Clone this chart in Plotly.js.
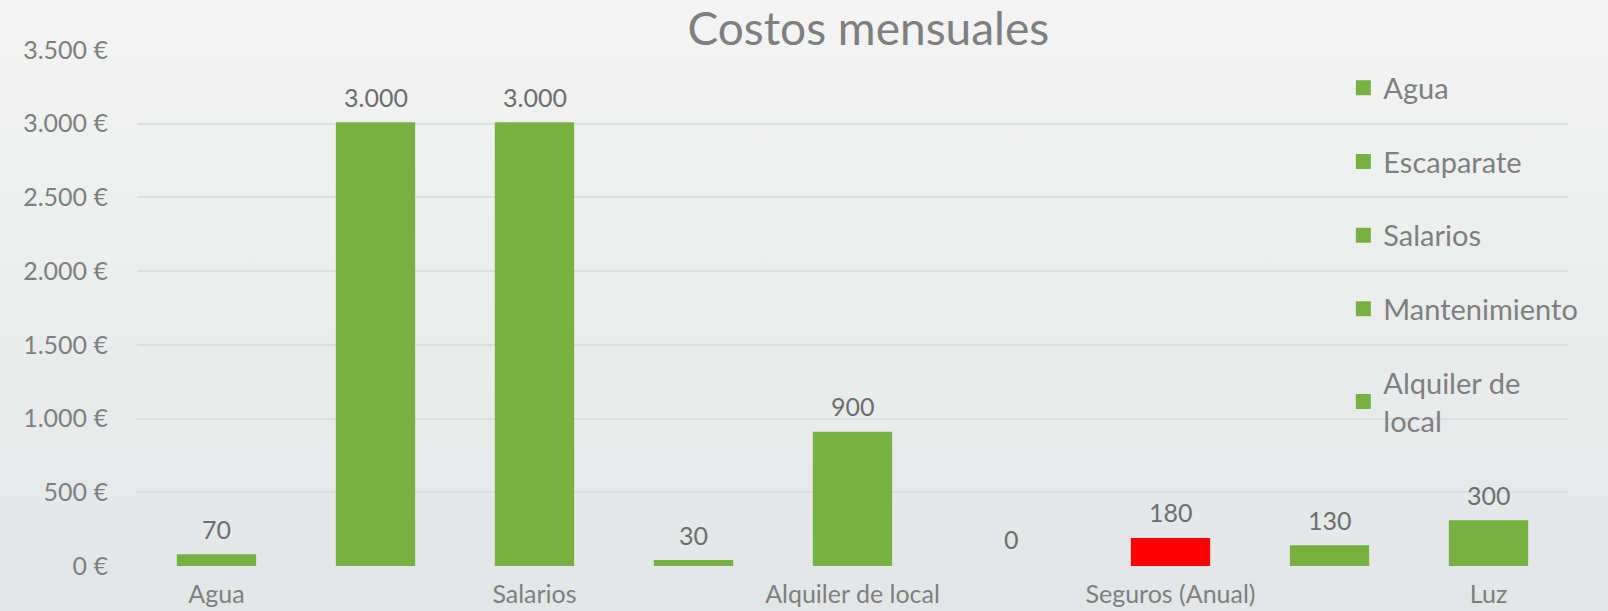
<!DOCTYPE html>
<html><head><meta charset="utf-8">
<script src="https://cdn.plot.ly/plotly-3.0.1.min.js"></script>
<style>
html,body{margin:0;padding:0;}
body{background:linear-gradient(to bottom,#f3f4f3 0%,#e3e6e7 100%);width:1608px;height:611px;}
#chart{width:1608px;height:611px;}
</style></head>
<body><div id="chart"></div>
<script>
const categories = ["Agua","Escaparate","Salarios","Mantenimiento","Alquiler de local","Publicidad","Seguros (Anual)","Internet","Luz"];
const values = [70,3000,3000,30,900,0,180,130,300];
const barColors = ["#78b042","#78b042","#78b042","#78b042","#78b042","#78b042","#ff0000","#78b042","#78b042"];
const legendCount = 5;
const tickLabels = ["Agua","Salarios","Alquiler de local","Seguros (Anual)","Luz"];
const yTicks = [0,500,1000,1500,2000,2500,3000,3500];

const fmt = v => String(v).replace(/\B(?=(\d{3})+(?!\d))/g,'.');
const fontFam = "Lato, 'Open Sans', sans-serif";
const traces = categories.map((c,i)=>({
  type:'bar',
  x:[c], y:[values[i]],
  name: c.replace('Alquiler de ','Alquiler de<br>'),
  legendgroup:'g'+i,
  showlegend: i < legendCount,
  width:0.48,
  marker:{color:barColors[i],line:{color:barColors[i],width: values[i] === 0 ? 0 : 3}},
  hoverinfo:'x+y'
}));

const annotations = categories.map((c,i)=>({
  x:c, y:values[i], xref:'x', yref:'y',
  text:fmt(values[i]), showarrow:false,
  yanchor:'bottom', yshift:10,
  font:{size:25,color:'#6e6e6e',family:fontFam}
}));

const layout = {
  width:1608, height:611,
  paper_bgcolor:'rgba(0,0,0,0)', plot_bgcolor:'rgba(0,0,0,0)',
  separators:',.',
  barmode:'overlay',
  margin:{l:137,r:40,t:50,b:45},
  font:{family:fontFam,color:'#7f7f7f'},
  title:{text:'Costos mensuales',x:0.54,xanchor:'center',y:0.952,yanchor:'middle',
         font:{size:46,color:'#7f7f7f',family:fontFam}},
  xaxis:{type:'category',categoryorder:'array',categoryarray:categories,
         tickmode:'array',tickvals:tickLabels,ticktext:tickLabels,
         showgrid:false,zeroline:false,showline:false,ticks:'',
         tickfont:{size:25,color:'#7f7f7f'},ticklabelstandoff:11},
  yaxis:{range:[0,3500],tickmode:'array',tickvals:yTicks,
         ticktext:yTicks.map(v=>fmt(v)+' €'),
         showgrid:true,gridcolor:'#dcdfe0',gridwidth:1.5,zeroline:false,
         ticks:'',tickfont:{size:25,color:'#7f7f7f'},ticklabelstandoff:28},
  legend:{x:0.843,xanchor:'left',y:0.976,yanchor:'top',bgcolor:'rgba(0,0,0,0)',
          font:{size:29,color:'#7f7f7f',family:fontFam},tracegroupgap:33,
          traceorder:'grouped',itemwidth:30},
  annotations:annotations,
  showlegend:true
};
Plotly.newPlot('chart',traces,layout,{displayModeBar:false});
</script></body></html>
